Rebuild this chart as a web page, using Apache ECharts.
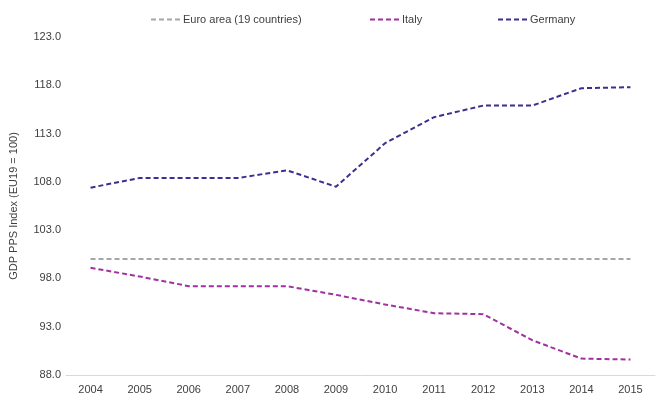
<!DOCTYPE html>
<html>
<head>
<meta charset="utf-8">
<script src="https://cdn.jsdelivr.net/npm/echarts@6/dist/echarts.min.js"></script>
<style>
  html, body { margin: 0; padding: 0; background: #fff; }
  #chart { width: 665px; height: 397px; }
</style>
</head>
<body>
<div id="chart"></div>
<script>
// 年份与各系列数值（GDP PPS 指数，EU19 = 100）
const years = ['2004', '2005', '2006', '2007', '2008', '2009', '2010', '2011', '2012', '2013', '2014', '2015'];
const euroArea = [100, 100, 100, 100, 100, 100, 100, 100, 100, 100, 100, 100];
const italy = [99.1, 98.2, 97.2, 97.2, 97.2, 96.3, 95.3, 94.4, 94.3, 91.6, 89.7, 89.6];
const germany = [107.4, 108.4, 108.4, 108.4, 109.2, 107.5, 112.0, 114.7, 115.9, 115.9, 117.7, 117.8];

const seriesNames = ['Euro area (19 countries)', 'Italy', 'Germany'];
const seriesColors = ['#a6a6a6', '#a1319f', '#3b2f8f'];

(function () {
  const chart = echarts.init(document.getElementById('chart'), null, { renderer: 'canvas' });
  const font = 'Liberation Sans';
  const textColor = '#404040';

  // 每个图例单独定位，只画虚线不画圆点
  const legendLeft = [145, 364, 492];
  const legends = seriesNames.map((name, i) => ({
    data: [name],
    left: legendLeft[i],
    top: 9,
    itemWidth: 29,
    itemHeight: 14,
    itemGap: 3,
    itemStyle: { opacity: 0 },
    textStyle: { fontFamily: font, fontSize: 11, color: textColor, padding: [0, 0, 0, -2] }
  }));

  function lineSeries(name, data, color) {
    return {
      name: name,
      type: 'line',
      data: data,
      symbol: 'none',
      silent: true,
      lineStyle: { color: color, width: 2, type: [5, 3] },
      itemStyle: { color: color }
    };
  }

  const option = {
    animation: false,
    backgroundColor: '#fff',
    legend: legends,
    grid: { left: 62, right: 10, top: 37, bottom: 22, containLabel: false },
    xAxis: {
      type: 'category',
      data: years,
      boundaryGap: true,
      axisTick: { show: false },
      axisLine: { lineStyle: { color: '#d9d9d9', width: 1 } },
      axisLabel: { fontFamily: font, fontSize: 11, color: textColor, margin: 9 }
    },
    yAxis: {
      type: 'value',
      min: 88,
      max: 123,
      interval: 5,
      name: 'GDP PPS Index (EU19 = 100)',
      nameLocation: 'middle',
      nameGap: 47,
      nameTextStyle: { fontFamily: font, fontSize: 11, color: textColor },
      axisLine: { show: false },
      axisTick: { show: false },
      splitLine: { show: false },
      axisLabel: {
        fontFamily: font, fontSize: 11, color: textColor, margin: 5,
        formatter: v => v.toFixed(1)
      }
    },
    series: [
      lineSeries(seriesNames[0], euroArea, seriesColors[0]),
      lineSeries(seriesNames[1], italy, seriesColors[1]),
      lineSeries(seriesNames[2], germany, seriesColors[2])
    ]
  };
  chart.setOption(option);
})();
</script>
</body>
</html>
